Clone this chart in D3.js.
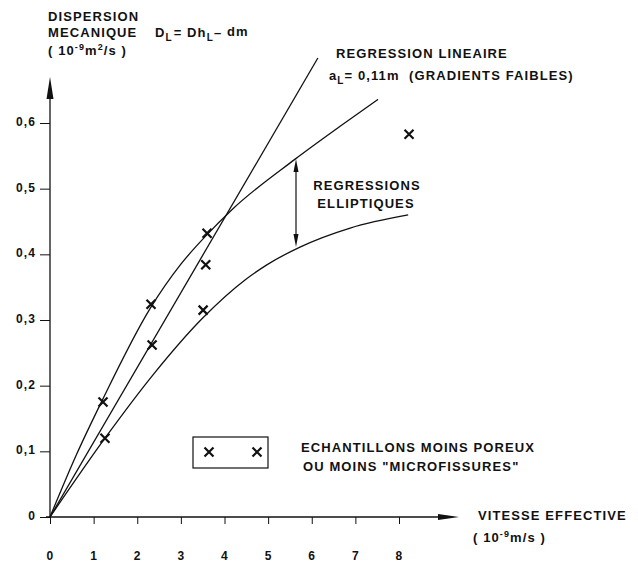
<!DOCTYPE html>
<html>
<head>
<meta charset="utf-8">
<script src="https://cdn.jsdelivr.net/npm/d3@7"></script>
<style>
  body { margin: 0; background: #fff; }
  svg text { font-family: "Liberation Sans", Arial, sans-serif; font-weight: bold; fill: #111; letter-spacing: 1.1px; }
</style>
</head>
<body>
<div id="chart"></div>
<script>
// values
var xTicks = [0, 1, 2, 3, 4, 5, 6, 7, 8];
var yTicks = [0, 0.1, 0.2, 0.3, 0.4, 0.5, 0.6];

// measured samples (crosses)
var ptsX = [1.215, 1.26, 2.315, 2.34, 3.60, 3.57, 3.51, 8.23];
var ptsY = [0.175, 0.120, 0.324, 0.262, 0.432, 0.384, 0.315, 0.583];

// linear regression a_L = 0,11 m
var linX = [0, 6.14];
var linY = [0, 0.699];

// upper elliptic regression
var upX = [0, 0.6, 1.2, 2.3, 3.0, 3.6, 4.17, 5.62, 6.65, 7.52];
var upY = [0, 0.094, 0.178, 0.318, 0.385, 0.430, 0.468, 0.545, 0.595, 0.636];

// lower elliptic regression
var loX = [0, 1.26, 2.38, 3.5, 4.47, 4.97, 5.73, 6.88, 8.21];
var loY = [0, 0.120, 0.218, 0.303, 0.361, 0.384, 0.411, 0.440, 0.460];

function drawChart() {
  var W = 638, H = 564;
  var svg = d3.select("#chart").append("svg")
      .attr("width", W)
      .attr("height", H);

  var x = d3.scaleLinear().domain([0, 8]).range([50, 399]);
  var y = d3.scaleLinear().domain([0, 0.6]).range([517, 123]);

  var ink = "#111";

  // x axis
  var xAxis = svg.append("g")
      .attr("transform", "translate(0," + y(0) + ")")
      .call(d3.axisBottom(x).tickValues(xTicks).tickSize(7).tickPadding(27).tickFormat(d3.format("d")));
  xAxis.select(".domain").remove();
  xAxis.selectAll("line").attr("stroke", ink).attr("stroke-width", 1);
  xAxis.selectAll("text").attr("font-size", "12px").attr("fill", ink);

  // y axis
  var yAxis = svg.append("g")
      .attr("transform", "translate(" + x(0) + ",0)")
      .call(d3.axisLeft(y).tickValues(yTicks).tickSize(10).tickPadding(4)
        .tickFormat(d => d === 0 ? "0" : d3.format(".1f")(d).replace(".", ",")));
  yAxis.select(".domain").remove();
  yAxis.selectAll("line").attr("stroke", ink).attr("stroke-width", 1);
  yAxis.selectAll("text").attr("font-size", "12px").attr("dy", "0.2em").attr("fill", ink);

  // axis lines with arrows
  svg.append("line")
      .attr("x1", x(0) - 4).attr("y1", y(0))
      .attr("x2", 440).attr("y2", y(0))
      .attr("stroke", ink).attr("stroke-width", 1.3);
  svg.append("path")
      .attr("d", "M438," + (y(0) - 3) + "L459," + y(0) + "L438," + (y(0) + 3) + "Z")
      .attr("fill", ink);

  svg.append("line")
      .attr("x1", x(0)).attr("y1", y(0))
      .attr("x2", x(0)).attr("y2", 98)
      .attr("stroke", ink).attr("stroke-width", 1.3);
  svg.append("path")
      .attr("d", "M" + (x(0) - 3.5) + ",99L" + x(0) + ",77L" + (x(0) + 3.5) + ",99Z")
      .attr("fill", ink);

  // curves
  var line = d3.line()
      .x(d => x(d[0]))
      .y(d => y(d[1]))
      .curve(d3.curveMonotoneX);

  [[linX, linY], [upX, upY], [loX, loY]].forEach(function (s) {
    svg.append("path")
        .datum(d3.zip(s[0], s[1]))
        .attr("fill", "none")
        .attr("stroke", ink)
        .attr("stroke-width", 1.3)
        .attr("d", line);
  });

  // crosses
  var crossPath = "M-4.5,-4.5L4.5,4.5M-4.5,4.5L4.5,-4.5";
  svg.selectAll(".pt")
      .data(d3.zip(ptsX, ptsY))
      .enter().append("path")
      .attr("class", "pt")
      .attr("d", crossPath)
      .attr("transform", d => "translate(" + x(d[0]) + "," + y(d[1]) + ")")
      .attr("stroke", ink)
      .attr("stroke-width", 2.2)
      .attr("fill", "none");

  // double arrow between the two ellipses
  var ax = 296;
  svg.append("line")
      .attr("x1", ax).attr("y1", 170).attr("x2", ax).attr("y2", 236)
      .attr("stroke", ink).attr("stroke-width", 1.2);
  svg.append("path")
      .attr("d", "M" + (ax - 2.5) + ",172L" + ax + ",159L" + (ax + 2.5) + ",172Z")
      .attr("fill", ink);
  svg.append("path")
      .attr("d", "M" + (ax - 2.5) + ",234L" + ax + ",247L" + (ax + 2.5) + ",234Z")
      .attr("fill", ink);

  // legend box
  svg.append("rect")
      .attr("x", 193).attr("y", 437)
      .attr("width", 75).attr("height", 31)
      .attr("fill", "none").attr("stroke", ink).attr("stroke-width", 1.2);
  [209, 257].forEach(function (cx) {
    svg.append("path")
        .attr("d", crossPath)
        .attr("transform", "translate(" + cx + ",452)")
        .attr("stroke", ink).attr("stroke-width", 2.2).attr("fill", "none");
  });

  // labels
  function label(tx, ty, str, anchor) {
    return svg.append("text")
        .attr("x", tx).attr("y", ty)
        .attr("font-size", "13px")
        .attr("text-anchor", anchor || "start")
        .text(str);
  }

  label(48, 21, "DISPERSION");
  label(48, 37, "MECANIQUE");
  var f = svg.append("text").attr("x", 155).attr("y", 37).attr("font-size", "13px");
  f.append("tspan").text("D");
  f.append("tspan").attr("dy", 4).attr("font-size", "10px").text("L");
  f.append("tspan").attr("dy", -4).attr("dx", 1).text("= Dh");
  f.append("tspan").attr("dy", 4).attr("font-size", "10px").text("L");
  f.append("tspan").attr("dy", -4).text("– ");
  f.append("tspan").attr("dy", -1).text("dm");

  var u = svg.append("text").attr("x", 48).attr("y", 55).attr("font-size", "13px");
  u.append("tspan").text("( 10");
  u.append("tspan").attr("dy", -5).attr("font-size", "9px").text("-9");
  u.append("tspan").attr("dy", 5).text("m");
  u.append("tspan").attr("dy", -5).attr("font-size", "9px").text("2");
  u.append("tspan").attr("dy", 5).text("/s )");

  label(336, 58, "REGRESSION LINEAIRE");
  var a = svg.append("text").attr("x", 329).attr("y", 80).attr("font-size", "13px");
  a.append("tspan").text("a");
  a.append("tspan").attr("dy", 4).attr("font-size", "10px").text("L");
  a.append("tspan").attr("dy", -4).text("= 0,11m\u00a0\u00a0(GRADIENTS FAIBLES)");

  label(367, 190, "REGRESSIONS", "middle");
  label(366, 208, "ELLIPTIQUES", "middle");

  label(301, 452, "ECHANTILLONS MOINS POREUX");
  label(303, 471, "OU MOINS \"MICROFISSURES\"");

  label(478, 520, "VITESSE EFFECTIVE");
  var v = svg.append("text").attr("x", 473).attr("y", 542).attr("font-size", "13px");
  v.append("tspan").text("( 10");
  v.append("tspan").attr("dy", -5).attr("font-size", "9px").text("-9");
  v.append("tspan").attr("dy", 5).text("m/s )");
}

window.onload = drawChart;
</script>
</body>
</html>
